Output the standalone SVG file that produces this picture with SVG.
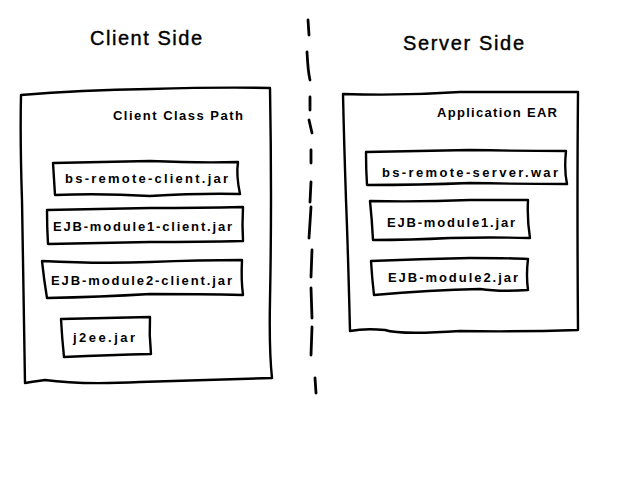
<svg xmlns="http://www.w3.org/2000/svg" width="640" height="480" viewBox="0 0 640 480">
<style>
.box{fill:none;stroke:#000;stroke-width:2.4;stroke-linejoin:round;stroke-linecap:round}
.dash{stroke:#000;stroke-width:2.8;stroke-linecap:round;fill:none}
.t{font-family:"Liberation Sans",Arial,sans-serif;font-weight:bold;font-size:13px;fill:#000}
.h{font-family:"Liberation Sans",Arial,sans-serif;font-size:20px;fill:#000;stroke:#000;stroke-width:0.4}
</style>
<rect width="640" height="480" fill="#fff"/>
<g id="titles">
<text class="h" x="90" y="45" textLength="112" lengthAdjust="spacing">Client Side</text>
<text class="h" x="403" y="50" textLength="121" lengthAdjust="spacing">Server Side</text>
</g>
<g id="divider">
<path class="dash" d="M308 20 L309 35"/>
<path class="dash" d="M307 52 Q308 72 310 80"/>
<path class="dash" d="M310 97 L310 110"/>
<path class="dash" d="M309 120 L312 133"/>
<path class="dash" d="M311 150 L311 163"/>
<path class="dash" d="M311 182 L310 202"/>
<path class="dash" d="M311 207 L309 238"/>
<path class="dash" d="M312 250 L311 277"/>
<path class="dash" d="M311 288 L312 318"/>
<path class="dash" d="M312 327 L311 355"/>
<path class="dash" d="M315 378 L316 393"/>
</g>
<g id="client-classpath">
<path class="box" d="M21 95 Q80 90 150 89 Q220 87 270 88 Q272 200 270 300 Q269 350 272 378 Q200 380 140 382 Q80 385 45 380 Q30 382 25 383 Q24 300 22 200 Q20 140 21 95 Z"/>
<text class="t" x="113" y="120" textLength="130" lengthAdjust="spacing">Client Class Path</text>
</g>
<g id="bs-remote-client">
<path class="box" d="M53 163 Q100 162 150 161 Q200 163 238 162 Q236 175 240 194 Q200 193 150 196 Q100 193 55 195 Q54 180 53 163 Z"/>
<text class="t" x="65" y="183" textLength="163" lengthAdjust="spacing">bs-remote-client.jar</text>
</g>
<g id="ejb-module1-client">
<path class="box" d="M47 210 Q100 209 150 208 Q200 208 243 207 Q242 225 243 241 Q200 242 150 242 Q100 243 48 244 Q47 228 47 210 Z"/>
<text class="t" x="53" y="231" textLength="179" lengthAdjust="spacing">EJB-module1-client.jar</text>
</g>
<g id="ejb-module2-client">
<path class="box" d="M42 261 Q100 264 150 262 Q200 260 242 260 Q241 280 243 295 Q200 294 150 294 Q100 297 47 298 Q44 280 42 261 Z"/>
<text class="t" x="51" y="285" textLength="181" lengthAdjust="spacing">EJB-module2-client.jar</text>
</g>
<g id="j2ee">
<path class="box" d="M61 319 Q100 318 150 317 Q149 335 151 354 Q110 355 64 357 Q62 338 61 319 Z"/>
<text class="t" x="73" y="342" textLength="62" lengthAdjust="spacing">j2ee.jar</text>
</g>
<g id="application-ear">
<path class="box" d="M343 94 Q400 96 460 92 Q520 92 578 92 Q577 200 578 330 Q520 332 460 331 Q400 335 385 330 Q365 328 350 331 Q348 250 346 200 Q344 140 343 94 Z"/>
<text class="t" x="437" y="117" textLength="120" lengthAdjust="spacing">Application EAR</text>
</g>
<g id="bs-remote-server">
<path class="box" d="M366 152 Q420 151 470 150 Q520 151 566 151 Q564 170 567 184 Q520 184 470 183 Q420 185 367 185 Q366 170 366 152 Z"/>
<text class="t" x="382" y="177" textLength="176" lengthAdjust="spacing">bs-remote-server.war</text>
</g>
<g id="ejb-module1">
<path class="box" d="M370 201 Q420 202 470 200 Q510 200 528 200 Q527 220 530 238 Q490 237 450 238 Q410 240 373 240 Q372 220 370 201 Z"/>
<text class="t" x="387" y="227" textLength="128" lengthAdjust="spacing">EJB-module1.jar</text>
</g>
<g id="ejb-module2">
<path class="box" d="M371 261 Q420 259 470 258 Q510 258 528 259 Q526 275 528 290 Q500 292 480 289 Q430 290 374 295 Q372 278 371 261 Z"/>
<text class="t" x="388" y="282" textLength="130" lengthAdjust="spacing">EJB-module2.jar</text>
</g>
<g id="connectors"/>
</svg>
